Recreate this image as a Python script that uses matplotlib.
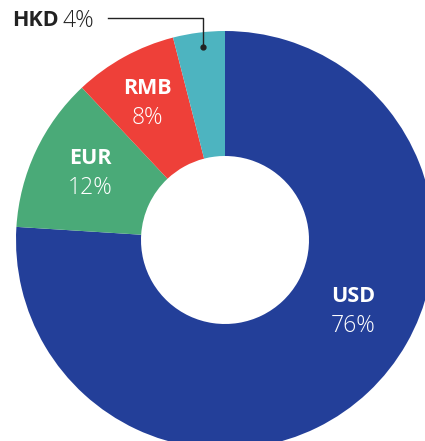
import matplotlib.pyplot as plt

plt.rcParams['font.family'] = ['Open Sans', 'DejaVu Sans']

# currency share
currencies = ['USD', 'EUR', 'RMB', 'HKD']
shares = [76, 12, 8, 4]
colors = ['#233f99', '#4aaa78', '#ee4039', '#4db4c0']

W, H = 425, 441
fig = plt.figure(figsize=(W / 100, H / 100), dpi=100)
ax = fig.add_axes([0, 0, 1, 1])

cx, cy = 225, H - 240
r_out, r_in = 209, 84

ax.pie(shares, colors=colors, startangle=90, counterclock=False,
       center=(cx, cy), radius=r_out, frame=True,
       wedgeprops=dict(width=r_out - r_in, linewidth=0))
ax.set_xlim(0, W)
ax.set_ylim(0, H)
ax.set_aspect('equal')
ax.axis('off')

fs = 15.5
fs_pct = 16.5
# labels inside the ring
label_pos = {'USD': (353, 296), 'EUR': (90, 158), 'RMB': (147, 88)}
for name, share in zip(currencies, shares):
    if name not in label_pos:
        continue
    x, y = label_pos[name]
    ax.text(x, H - y, name, color='white', fontsize=fs, fontweight='bold',
            ha='center', va='center')
    ax.text(x, H - y - 30, f'{share}%', color='white', fontsize=fs_pct,
            fontweight='light', ha='center', va='center')

# HKD callout
ax.text(12, H - 21, 'HKD', color='#222222', fontsize=fs, fontweight='bold',
        ha='left', va='center')
ax.text(63, H - 21, f'{shares[3]}%', color='#222222', fontsize=fs_pct,
        fontweight='light', ha='left', va='center')
ax.plot([108, 203, 203], [H - 18, H - 18, H - 47], color='#222222', lw=1)
ax.plot([203], [H - 47], 'o', color='#222222', ms=3.5)

fig.savefig('out.png', dpi=100)
